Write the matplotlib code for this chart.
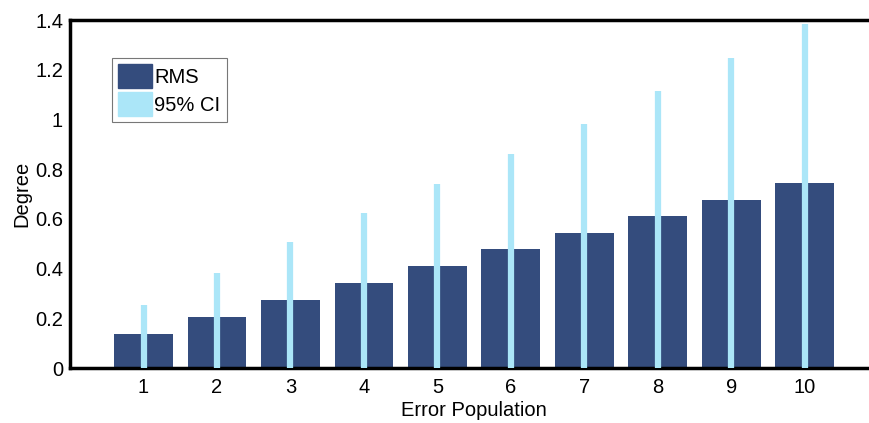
import numpy as np
import matplotlib.pyplot as plt
from matplotlib.patches import Patch

plt.rcParams['font.family'] = ['Liberation Sans', 'DejaVu Sans']

populations = [1, 2, 3, 4, 5, 6, 7, 8, 9, 10]
rms = [0.137, 0.206, 0.272, 0.342, 0.409, 0.479, 0.544, 0.611, 0.677, 0.743]
ci_upper = [0.253, 0.383, 0.507, 0.624, 0.740, 0.860, 0.980, 1.114, 1.246, 1.384]

dark = '#344c7d'
light = '#abe6f8'

fig = plt.figure(figsize=(8.7, 4.23), dpi=100)
ax = fig.add_axes([0.0805, 0.130, 0.929, 0.8227])

ax.bar(populations, rms, width=0.8, color=dark, zorder=2)
ax.vlines(populations, 0, ci_upper, colors=light, linewidth=4.5, zorder=3)

ax.set_xlim(0, 11)
ax.set_ylim(0, 1.4)
ax.set_xticks(populations)
ax.set_yticks([0, 0.2, 0.4, 0.6, 0.8, 1, 1.2, 1.4])
ax.set_yticklabels(['0', '0.2', '0.4', '0.6', '0.8', '1', '1.2', '1.4'])
ax.tick_params(length=0, labelsize=14.5)
ax.tick_params(axis='y', pad=5)
ax.tick_params(axis='x', pad=7)
for s in ax.spines.values():
    s.set_linewidth(2.5)

ax.set_xlabel('Error Population', fontsize=14.5, labelpad=3)
ax.set_ylabel('Degree', fontsize=14.5, labelpad=3)

handles = [Patch(facecolor=dark, edgecolor=dark, label='RMS'),
           Patch(facecolor=light, edgecolor=light, label='95% CI')]
leg = ax.legend(handles=handles, loc='upper left', bbox_to_anchor=(0.052, 0.891),
                fontsize=14.5, frameon=True, fancybox=False, borderpad=0.3,
                handlelength=1.7, handleheight=1.45, handletextpad=0.1,
                labelspacing=0.2, borderaxespad=0)
leg.get_frame().set_edgecolor('#555555')
leg.get_frame().set_linewidth(0.8)

fig.savefig('out.png', dpi=100)
